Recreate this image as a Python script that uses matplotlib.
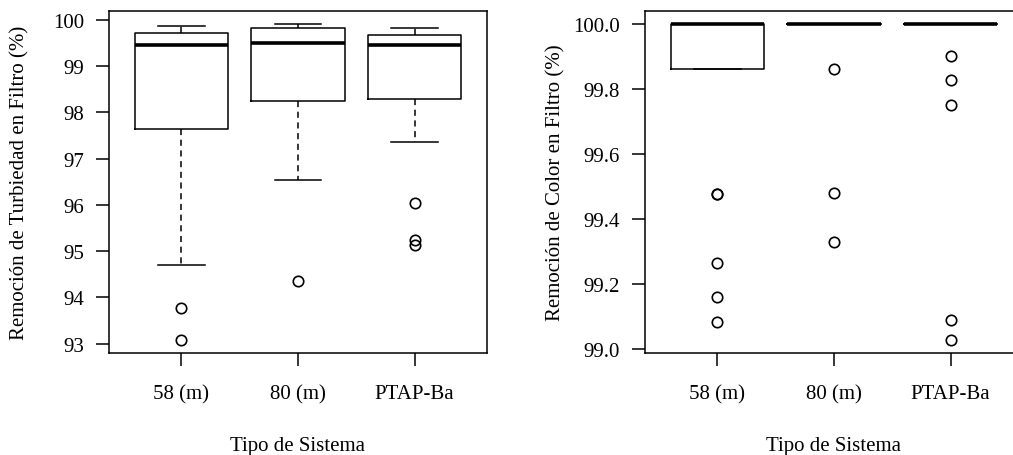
import matplotlib.pyplot as plt
import numpy as np

plt.rcParams['font.family'] = ['Liberation Serif', 'DejaVu Serif']

systems = ['58 (m)', '80 (m)', 'PTAP-Ba']

# Remoción de turbiedad (%) - resumen de cada caja
turb_whislo = [94.71, 96.53, 97.37]
turb_q1 = [97.65, 98.24, 98.29]
turb_med = [99.45, 99.51, 99.45]
turb_q3 = [99.71, 99.83, 99.68]
turb_whishi = [99.87, 99.92, 99.82]
turb_out = [[93.77, 93.07], [94.36], [96.05, 95.23, 95.14]]

# Remoción de color (%)
color_whislo = [99.862, 100.0, 100.0]
color_q1 = [99.862, 100.0, 100.0]
color_med = [100.0, 100.0, 100.0]
color_q3 = [100.0, 100.0, 100.0]
color_whishi = [100.0, 100.0, 100.0]
color_out = [[99.478, 99.476, 99.265, 99.16, 99.083],
             [99.862, 99.48, 99.33],
             [99.90, 99.826, 99.75, 99.088, 99.027]]

FS = 15


def make_stats(lo, q1, med, q3, hi, out):
    stats = []
    for i in range(len(systems)):
        stats.append(dict(whislo=lo[i], q1=q1[i], med=med[i], q3=q3[i],
                          whishi=hi[i], fliers=out[i], label=systems[i]))
    return stats


def draw_panel(ax, stats, yticks, fmt, ylabel):
    ax.bxp(stats, positions=[1, 2, 3], widths=0.8, showfliers=True,
           boxprops=dict(color='black', lw=1.1),
           medianprops=dict(color='black', lw=2.6, solid_capstyle='butt'),
           whiskerprops=dict(color='black', lw=1.1, linestyle=(0, (4, 3))),
           capprops=dict(color='black', lw=1.1),
           capwidths=0.4,
           flierprops=dict(marker='o', markerfacecolor='none',
                           markeredgecolor='black', markersize=7.5,
                           markeredgewidth=1.2))
    # rango de datos con 4% de margen, como en R
    allv = [s['whislo'] for s in stats] + [s['whishi'] for s in stats]
    for s in stats:
        allv += list(s['fliers'])
    lo, hi = min(allv), max(allv)
    pad = (hi - lo) * 0.04
    ax.set_ylim(lo - pad, hi + pad)
    ax.set_xlim(0.38, 3.62)
    ax.set_yticks(yticks)
    ax.set_yticklabels([fmt.format(v) for v in yticks])
    ax.set_xticks([1, 2, 3])
    ax.set_xticklabels(systems)
    ax.tick_params(axis='both', direction='out', length=9.4, width=1.1,
                   labelsize=FS, color='black')
    ax.tick_params(axis='y', pad=8.5)
    ax.tick_params(axis='x', pad=13)
    for sp in ax.spines.values():
        sp.set_linewidth(1.1)
    ax.set_ylabel(ylabel, fontsize=FS)
    ax.yaxis.label.set_va('center')
    ax.yaxis.set_label_coords(-0.235, 0.5)
    ax.set_xlabel('Tipo de Sistema', fontsize=FS)
    ax.xaxis.label.set_va('center')
    ax.xaxis.set_label_coords(0.5, -0.27)


fig = plt.figure(figsize=(10.13, 4.56), dpi=100)
ax1 = fig.add_axes([109 / 1013, 1 - 354 / 456, 378 / 1013, 342 / 456])
ax2 = fig.add_axes([645 / 1013, 1 - 354 / 456, 378 / 1013, 342 / 456])

draw_panel(ax1, make_stats(turb_whislo, turb_q1, turb_med, turb_q3,
                           turb_whishi, turb_out),
           list(range(93, 101)), '{:.0f}',
           'Remoción de Turbiedad en Filtro (%)')
draw_panel(ax2, make_stats(color_whislo, color_q1, color_med, color_q3,
                           color_whishi, color_out),
           list(np.round(np.arange(99.0, 100.01, 0.2), 1)), '{:.1f}',
           'Remoción de Color en Filtro (%)')

fig.savefig('out.png', dpi=100)
